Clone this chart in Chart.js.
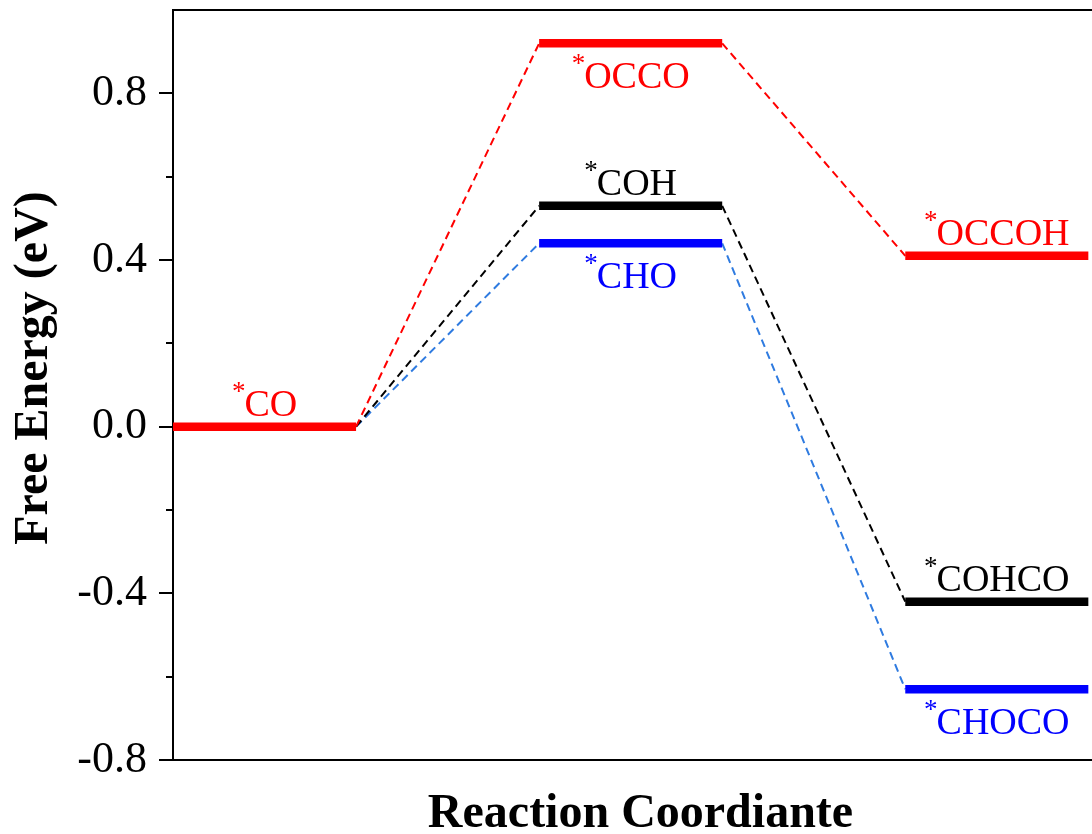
<!DOCTYPE html>
<html>
<head>
<meta charset="utf-8">
<title>Free Energy Diagram</title>
<script src="https://cdn.jsdelivr.net/npm/chart.js@4"></script>
<style>
  html, body { margin: 0; padding: 0; background: #ffffff; }
  #wrap { position: relative; width: 1092px; height: 834px; }
</style>
</head>
<body>
<div id="wrap"><canvas id="chart"></canvas></div>
<script>
// Intermediates along each pathway (step 0, 1, 2) and their free energies (eV)
const redSpecies   = ['CO', 'OCCO', 'OCCOH'];
const redEnergy    = [0.00, 0.92, 0.41];
const blackSpecies = ['CO', 'COH', 'COHCO'];
const blackEnergy  = [0.00, 0.53, -0.42];
const blueSpecies  = ['CO', 'CHO', 'CHOCO'];
const blueEnergy   = [0.00, 0.44, -0.63];

// Y axis tick labels
const yTickValues = [-0.8, -0.4, 0.0, 0.4, 0.8];
const yTickLabels = ['-0.8', '-0.4', '0.0', '0.4', '0.8'];

// Axis titles
const xTitle = 'Reaction Coordiante';
const yTitle = 'Free Energy (eV)';

const SERIF = "'Liberation Serif', 'Times New Roman', Times, serif";

const pathways = [
  { species: redSpecies,   energy: redEnergy,   level: '#ff0000', link: '#ff0000' },
  { species: blackSpecies, energy: blackEnergy, level: '#000000', link: '#000000' },
  { species: blueSpecies,  energy: blueEnergy,  level: '#0000ff', link: '#2f7be0' }
];

// labels drawn under their level bar; the rest sit above it
const labelBelow = new Set(['OCCO', 'CHO', 'CHOCO']);

const datasets = [];
const levelLabels = [];
const seen = new Set();

pathways.forEach(p => {
  p.energy.forEach((e, i) => {
    const name = p.species[i];
    // dashed connector from the end of the previous level to the start of this one
    if (i > 0) {
      datasets.push({
        data: [{ x: 2 * i - 1, y: p.energy[i - 1] }, { x: 2 * i, y: e }],
        borderColor: p.link,
        borderWidth: 2,
        borderDash: [8, 5],
        pointRadius: 0,
        fill: false,
        order: 2
      });
    }
    if (seen.has(name)) return;
    seen.add(name);
    datasets.push({
      data: [{ x: 2 * i, y: e }, { x: 2 * i + 1, y: e }],
      borderColor: p.level,
      borderWidth: 8.5,
      borderCapStyle: 'butt',
      pointRadius: 0,
      fill: false,
      order: name === 'CO' ? 0 : 1
    });
    levelLabels.push({ name, x0: 2 * i, x1: 2 * i + 1, y: e, color: p.level, below: labelBelow.has(name) });
  });
});

// Outward axis ticks: long ones at labelled values, short ones halfway between
const axisTicks = {
  id: 'axisTicks',
  afterDraw(chart) {
    const { ctx, scales: { y }, chartArea } = chart;
    ctx.save();
    ctx.strokeStyle = '#000000';
    ctx.lineWidth = 2;
    const all = [];
    yTickValues.forEach((v, i) => {
      all.push({ v, len: 14 });
      if (i < yTickValues.length - 1) all.push({ v: (v + yTickValues[i + 1]) / 2, len: 7 });
    });
    all.forEach(t => {
      const py = Math.round(y.getPixelForValue(t.v));
      ctx.beginPath();
      ctx.moveTo(chartArea.left - t.len, py);
      ctx.lineTo(chartArea.left, py);
      ctx.stroke();
    });
    ctx.restore();
  }
};

// Bold axis titles
const axisTitles = {
  id: 'axisTitles',
  afterDraw(chart) {
    const { ctx, chartArea } = chart;
    ctx.save();
    ctx.fillStyle = '#000000';
    ctx.font = 'bold 48px ' + SERIF;
    ctx.textAlign = 'center';
    ctx.textBaseline = 'alphabetic';
    ctx.fillText(xTitle, (chartArea.left + chartArea.right) / 2 + 8, chartArea.bottom + 67);
    ctx.translate(chartArea.left - 126, (chartArea.top + chartArea.bottom) / 2 - 17);
    ctx.rotate(-Math.PI / 2);
    ctx.fillText(yTitle, 0, 0);
    ctx.restore();
  }
};

// Species names with a superscript asterisk, centred on each level bar
const speciesLabels = {
  id: 'speciesLabels',
  afterDatasetsDraw(chart) {
    const { ctx, scales: { x, y } } = chart;
    ctx.save();
    const mainFont = '38px ' + SERIF;
    const starFont = '27px ' + SERIF;
    levelLabels.forEach(l => {
      const cx = (x.getPixelForValue(l.x0) + x.getPixelForValue(l.x1)) / 2;
      const py = y.getPixelForValue(l.y);
      const base = l.below ? py + 45 : py - 11;
      ctx.font = starFont;
      const ws = ctx.measureText('*').width - 1;
      ctx.font = mainFont;
      const wt = ctx.measureText(l.name).width;
      const left = cx - (ws + wt) / 2;
      ctx.fillStyle = l.color;
      ctx.textBaseline = 'alphabetic';
      ctx.textAlign = 'left';
      ctx.font = starFont;
      ctx.fillText('*', left, base - 16);
      ctx.font = mainFont;
      ctx.fillText(l.name, left + ws, base);
    });
    ctx.restore();
  }
};

new Chart(document.getElementById('chart'), {
  type: 'line',
  data: { datasets },
  plugins: [axisTicks, axisTitles, speciesLabels],
  options: {
    responsive: true,
    maintainAspectRatio: false,
    animation: false,
    events: [],
    layout: { padding: { top: 0, right: 0, bottom: 0, left: 0 } },
    plugins: { legend: { display: false }, tooltip: { enabled: false } },
    scales: {
      x: {
        type: 'linear',
        position: 'bottom',
        min: 0,
        max: 5.02,
        grid: { display: false, drawTicks: false },
        border: { display: true, color: '#000000', width: 2 },
        ticks: { display: false },
        afterFit(scale) { scale.height = 74; scale.paddingLeft = 0; scale.paddingRight = 0; }
      },
      xTop: {
        type: 'linear',
        position: 'top',
        min: 0,
        max: 5.02,
        grid: { display: false, drawTicks: false },
        border: { display: true, color: '#000000', width: 2 },
        ticks: { display: false },
        afterFit(scale) { scale.height = 10; scale.paddingLeft = 0; scale.paddingRight = 0; }
      },
      y: {
        type: 'linear',
        position: 'left',
        min: -0.8,
        max: 1.0,
        grid: { display: false, drawTicks: false },
        border: { display: true, color: '#000000', width: 2 },
        afterBuildTicks(scale) {
          scale.ticks = yTickValues.map(v => ({ value: v }));
        },
        ticks: {
          color: '#000000',
          padding: 26,
          font: { family: SERIF, size: 44 },
          callback(value) {
            const i = yTickValues.findIndex(v => Math.abs(v - value) < 1e-9);
            return i >= 0 ? yTickLabels[i] : '';
          }
        },
        afterFit(scale) { scale.width = 173; scale.paddingTop = 0; scale.paddingBottom = 0; }
      }
    }
  }
});
</script>
</body>
</html>
